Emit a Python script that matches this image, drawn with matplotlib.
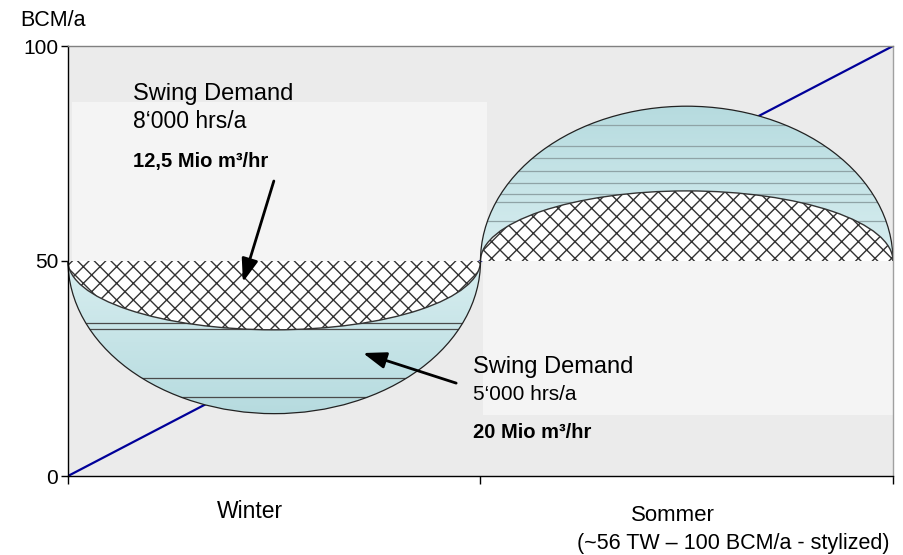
import numpy as np
import matplotlib
matplotlib.use("Agg")
import matplotlib.pyplot as plt
from matplotlib.patches import Ellipse, Rectangle
from matplotlib.colors import LinearSegmentedColormap

plt.rcParams['font.family'] = ['Liberation Sans', 'DejaVu Sans']
plt.rcParams['hatch.linewidth'] = 1.0

# ---------------- data ----------------
categories = ['Winter', 'Sommer']
y_ticks = [0, 50, 100]
trend_x = [0, 2]
trend_y = [0, 100]
base_level = 50
winter_outer_bottom = 14.5     # lowest point of winter ellipse
winter_hatch_bottom = 34.0     # lowest point of winter hatched area
summer_outer_top = 86.0        # top of summer ellipse
summer_hatch_top = 66.3        # top of summer hatched area
winter_lines = [35.6, 34.2, 22.8, 18.4]
summer_lines = [81.6, 76.7, 74.0, 70.9, 68.1, 65.6, 63.7, 59.3]
label_winter = ['Swing Demand', '8\u2018000 hrs/a', '12,5 Mio m\u00b3/hr']
label_summer = ['Swing Demand', '5\u2018000 hrs/a', '20 Mio m\u00b3/hr']
footnote = '(~56 TW \u2013 100 BCM/a - stylized)'

W, H = 904, 555
fig = plt.figure(figsize=(W / 100, H / 100), dpi=100)
ax = fig.add_axes([68 / W, 1 - 476 / H, (893 - 68) / W, (476 - 46) / H])
ax.set_xlim(0, 2)
ax.set_ylim(0, 100)
ax.set_facecolor('#ebebeb')

# lighter cover panels
ax.add_patch(Rectangle((0.01, base_level), 1.005, 87 - base_level,
                       facecolor='#f4f4f4', edgecolor='none', zorder=1))
ax.add_patch(Rectangle((1.005, 14.2), 0.995, base_level - 14.2,
                       facecolor='#f4f4f4', edgecolor='none', zorder=1))

# trend line
ax.plot(trend_x, trend_y, color='#000099', lw=1.6, zorder=2, solid_capstyle='butt')

def half_clip(lower):
    if lower:
        r = Rectangle((-1, -10), 5, base_level + 10, transform=ax.transData)
    else:
        r = Rectangle((-1, base_level), 5, 100, transform=ax.transData)
    return r

light = '#d8eef0'
dark = '#b6dbdf'

specs = [
    # centre x, outer extreme, hatch extreme, lines, lower?, line colour
    (0.5, winter_outer_bottom, winter_hatch_bottom, winter_lines, True, '#4a4a4a'),
    (1.5, summer_outer_top, summer_hatch_top, summer_lines, False, '#8fa3a6'),
]

for cx, outer, hatch_ext, lines, lower, lc in specs:
    outer_h = 2 * abs(base_level - outer)
    hatch_h = 2 * abs(base_level - hatch_ext)
    clipE = Ellipse((cx, base_level), 1.0, outer_h, facecolor='none',
                    edgecolor='none', transform=ax.transData)
    ax.add_patch(clipE)
    clipE.set_visible(False)
    cmap = LinearSegmentedColormap.from_list('g', [dark, light] if lower else [light, dark])
    grad = np.linspace(0, 1, 256).reshape(-1, 1)
    if lower:
        ext = (cx - 0.5, cx + 0.5, outer, base_level)
    else:
        ext = (cx - 0.5, cx + 0.5, base_level, outer)
    im = ax.imshow(grad, cmap=cmap, extent=ext, origin='lower', aspect='auto',
                   zorder=3, interpolation='bilinear')
    im.set_clip_path(clipE)
    for yv in lines:
        ln, = ax.plot([cx - 0.5, cx + 0.5], [yv, yv], color=lc, lw=0.9, zorder=3.5)
        ln.set_clip_path(clipE)
    hat = Ellipse((cx, base_level), 1.0, hatch_h, facecolor='white',
                  edgecolor='#333333', hatch='xx', lw=1.0, zorder=4)
    ax.add_patch(hat)
    hat.set_clip_path(half_clip(lower))
    half = Ellipse((cx, base_level), 1.0, outer_h, facecolor='none',
                   edgecolor='#222222', lw=0.9, zorder=5)
    ax.add_patch(half)
    half.set_clip_path(half_clip(lower))

ax.set_xlim(0, 2)
ax.set_ylim(0, 100)

# texts (data coordinates)
ax.text(0.158, 87.4, label_winter[0], fontsize=17, zorder=6)
ax.text(0.158, 80.9, label_winter[1], fontsize=16.5, zorder=6)
ax.text(0.158, 71.9, label_winter[2], fontsize=14.5, fontweight='bold', zorder=6)
ax.text(0.982, 24.0, label_summer[0], fontsize=17, zorder=6)
ax.text(0.982, 17.7, label_summer[1], fontsize=15, zorder=6)
ax.text(0.982, 8.8, label_summer[2], fontsize=14.5, fontweight='bold', zorder=6)

arrow = dict(arrowstyle='-|>,head_length=0.7,head_width=0.25', lw=2.0,
             color='black', shrinkA=0, shrinkB=0, mutation_scale=20)
ax.annotate('', xy=(0.424, 45.1), xytext=(0.499, 68.6), arrowprops=arrow, zorder=7)
ax.annotate('', xy=(0.715, 28.6), xytext=(0.941, 21.6), arrowprops=arrow, zorder=7)

# axes styling
ax.set_yticks(y_ticks)
ax.set_yticklabels([str(v) for v in y_ticks])
ax.set_xticks([0, 1, 2])
ax.set_xticklabels([])
ax.tick_params(axis='y', direction='out', length=5, width=1, labelsize=15, pad=2)
ax.tick_params(axis='x', direction='out', length=6, width=1)
ax.spines['left'].set_color('black')
ax.spines['bottom'].set_color('black')
ax.spines['top'].set_color('#808080')
ax.spines['right'].set_color('#a0a0a0')
for s in ax.spines.values():
    s.set_linewidth(1.0)
    s.set_zorder(8)

fig.text(20 / W, 1 - 26 / H, 'BCM/a', fontsize=15.5, va='baseline')
fig.text(250 / W, 1 - 518 / H, categories[0], fontsize=16.5, ha='center', va='baseline')
fig.text(673 / W, 1 - 521 / H, categories[1], fontsize=16, ha='center', va='baseline')
fig.text(890 / W, 1 - 549 / H, footnote, fontsize=15.5, ha='right', va='baseline')

fig.savefig('out.png', dpi=100)
